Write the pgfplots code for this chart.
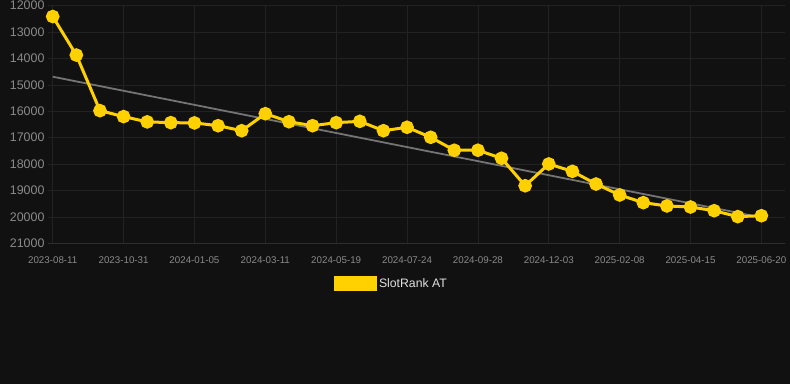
\documentclass[border=0pt]{standalone}
\usepackage{pgfplots}
\pgfplotsset{compat=1.18}
\usepackage{fontspec}
\setmainfont{Liberation Sans}
\definecolor{bg}{HTML}{111111}
\definecolor{gridc}{HTML}{222222}
\definecolor{basec}{HTML}{2E2E2E}
\definecolor{tickc}{HTML}{8A8A8A}
\definecolor{lineY}{HTML}{FFD100}
\definecolor{trendc}{HTML}{747474}
\begin{document}
\begin{tikzpicture}[x=1bp,y=1bp]
\useasboundingbox (0,0) rectangle (790,384);
\fill[bg] (0,0) rectangle (790,384);
\begin{axis}[
  at={(48bp,140.7bp)}, anchor=south west,
  scale only axis, width=737bp, height=237.6bp,
  xmin=-0.2, xmax=31.0,
  ymin=12000, ymax=21000, y dir=reverse,
  scaled y ticks=false,
  axis line style={draw=none},
  xtick={0,3,...,30},
  xticklabels={2023-08-11,2023-10-31,2024-01-05,2024-03-11,2024-05-19,2024-07-24,2024-09-28,2024-12-03,2025-02-08,2025-04-15,2025-06-20},
  ytick={12000,13000,...,21000},
  yticklabels={12000,13000,14000,15000,16000,17000,18000,19000,20000,21000},
  grid=major, major grid style={draw=gridc, line width=0.8bp},
  tick style={draw=none},
  xticklabel style={font=\fontsize{9.8}{10}\selectfont, text=tickc, yshift=-10bp},
  yticklabel style={font=\fontsize{12.5}{13}\selectfont, text=tickc, xshift=0bp},
  legend style={at={(0.466,-0.171)}, anchor=center, draw=none, fill=none,
    text=white!88!black, font=\fontsize{12.3}{13}\selectfont,
    legend cell align=left, /tikz/every even column/.append style={column sep=3bp}},
  clip=false,
]
\draw[basec, line width=0.8bp] (axis cs:-0.2,21000) -- (axis cs:31.0,21000);
\addplot[trendc, line width=1.8bp, forget plot] coordinates {(0,14690) (30,20020)};
\addplot[lineY, line width=3bp, mark=*, mark size=5.3bp, mark options={solid, fill=lineY, draw=none},
  legend image code/.code={\fill[lineY] (0bp,-6bp) rectangle (40bp,6bp);}]
coordinates {
(0,12410) (1,13870) (2,15975) (3,16200) (4,16400) (5,16430) (6,16440) (7,16545)
(8,16735) (9,16090) (10,16395) (11,16545) (12,16430) (13,16380) (14,16735)
(15,16605) (16,16985) (17,17475) (18,17475) (19,17780) (20,18820) (21,17995)
(22,18275) (23,18755) (24,19170) (25,19460) (26,19585) (27,19625) (28,19765)
(29,19990) (30,19955)
};
\addlegendentry{SlotRank AT}
\end{axis}
\end{tikzpicture}
\end{document}
